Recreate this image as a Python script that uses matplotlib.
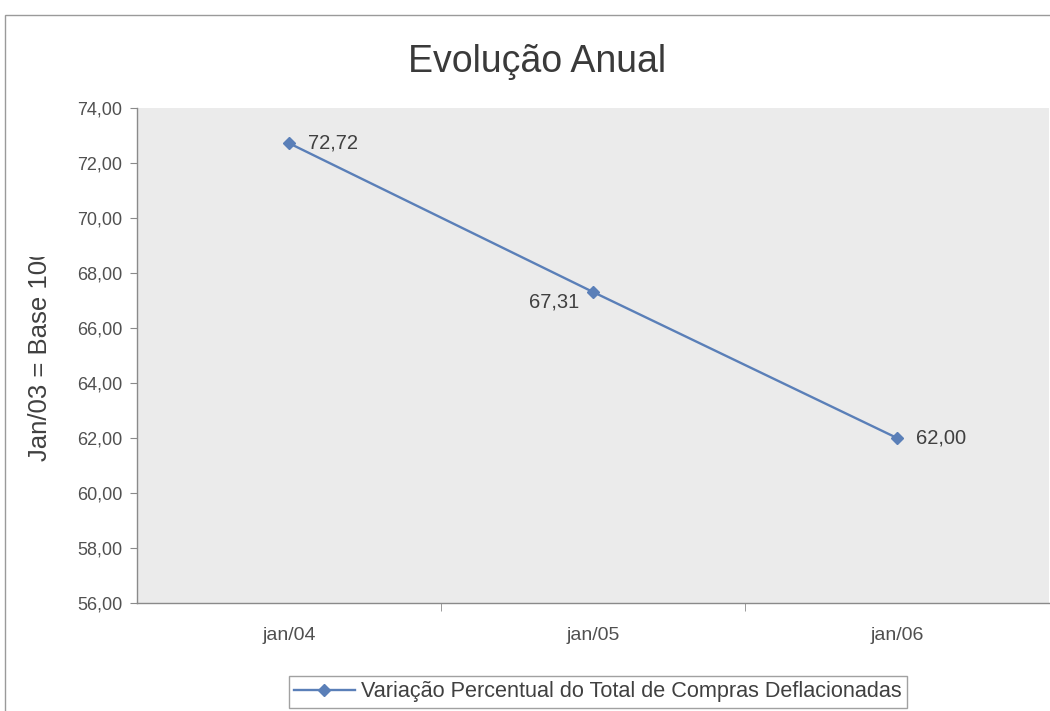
import matplotlib
matplotlib.use("Agg")
import matplotlib.pyplot as plt
from matplotlib.patches import Rectangle
from matplotlib.lines import Line2D

categories = ["jan/04", "jan/05", "jan/06"]
values = [72.72, 67.31, 62.00]
yticks = [56, 58, 60, 62, 64, 66, 68, 70, 72, 74]
series_name = "Variação Percentual do Total de Compras Deflacionadas"
y_title = "Jan/03 = Base 100"

FONT = "Liberation Sans"
W, H = 1050, 711
fig = plt.figure(figsize=(W / 100, H / 100), dpi=100)
fig.patch.set_facecolor("white")

# outer chart frame
fig.add_artist(Rectangle((5 / W, -0.01), 1.2, 1 - 15 / H + 0.01, transform=fig.transFigure,
                         fill=False, edgecolor="#9a9a9a", linewidth=1.0))

left, right, top, bottom = 137, 1049, 108, 603
ax = fig.add_axes([left / W, 1 - bottom / H, (right - left) / W, (bottom - top) / H])
ax.set_facecolor("#ebebeb")

x = list(range(len(categories)))
line_color = "#5a7fb8"
ax.plot(x, values, color=line_color, linewidth=1.7, marker="D", markersize=6.5,
        markerfacecolor=line_color, markeredgecolor=line_color, zorder=3)

ax.set_xlim(-0.5, len(categories) - 0.5)
ax.set_ylim(56, 74)
ax.set_yticks(yticks)
ax.set_yticklabels([f"{v:.2f}".replace(".", ",") for v in yticks])
ax.set_xticks(x)
ax.set_xticklabels(categories)
ax.set_xticks([0.5, 1.5], minor=True)

for s in ["top", "right"]:
    ax.spines[s].set_visible(False)
for s in ["left", "bottom"]:
    ax.spines[s].set_color("#8a8a8a")
    ax.spines[s].set_linewidth(1.0)

ax.tick_params(axis="y", colors="#8a8a8a", labelcolor="#505050", labelsize=13,
               length=5, direction="out", pad=5.5)
ax.tick_params(axis="x", which="major", length=0, labelcolor="#505050", labelsize=14, pad=17)
ax.tick_params(axis="x", which="minor", length=6, color="#8a8a8a", direction="out")
for lbl in ax.get_yticklabels() + ax.get_xticklabels():
    lbl.set_fontfamily(FONT)

# value labels beside each point
offsets = [(14, 0, "left", "center"), (-10, -7, "right", "center"), (14, 0, "left", "center")]
for xi, v, (dx, dy, ha, va) in zip(x, values, offsets):
    ax.annotate(f"{v:.2f}".replace(".", ","), (xi, v), xytext=(dx, dy), textcoords="offset points",
                ha=ha, va=va, fontsize=14.5, color="#404040", family=FONT)

fig.text(537 / W, 1 - 72 / H, "Evolução Anual", ha="center", va="baseline", fontsize=27,
         color="#3a3a3a", family=FONT)

# vertical axis title, cut off at the top
YFS = 18.5
ylab = fig.text(40 / W, 1 - 461 / H, y_title, rotation=90, ha="center", va="bottom",
                fontsize=YFS, color="#404040", family=FONT)
renderer = fig.canvas.get_renderer()
probe = fig.text(40 / W, 1 - 461 / H, y_title[:-1], rotation=90, ha="center", va="bottom",
                 fontsize=YFS, family=FONT)
ext = probe.get_window_extent(renderer)
probe.remove()
clip_top = ext.y1 + 3
clip = Rectangle((0, 0), 1, clip_top / H, transform=fig.transFigure, visible=False)
fig.add_artist(clip)
ylab.set_clip_path(clip)

handle = Line2D([], [], color=line_color, marker="D", markersize=6, linewidth=1.7,
                markerfacecolor=line_color)
leg = fig.legend([handle], [series_name], loc="center", bbox_to_anchor=(598 / W, 1 - 692 / H),
                 frameon=True, fancybox=False, edgecolor="#8a8a8a",
                 handlelength=2.8, handletextpad=0.3, borderpad=0.25, borderaxespad=0,
                 prop={"family": FONT, "size": 15.6})
for t in leg.get_texts():
    t.set_color("#404040")
leg.get_frame().set_linewidth(1.0)

fig.savefig("out.png", dpi=100)
